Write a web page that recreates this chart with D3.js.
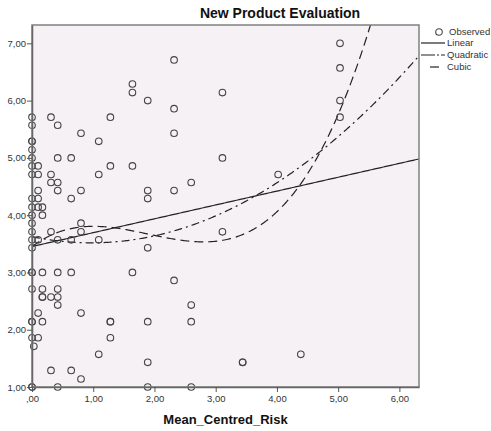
<!DOCTYPE html>
<html>
<head>
<meta charset="utf-8">
<script src="https://d3js.org/d3.v7.min.js"></script>
<style>
  body { margin: 0; background: #fff; }
  text { font-family: "Liberation Sans", Arial, sans-serif; }
</style>
</head>
<body>
<script>
// observed points (x = Mean_Centred_Risk, y = evaluation)
var riskValues = [
  0, 0, 0, 0, 0, 0, 0, 0, 0, 0, 0, 0, 0, 0, 0, 0, 0, 0, 0, 0, 0, 0, 0, 0.03,
  0.10, 0.10, 0.10, 0.10, 0.10, 0.10, 0.10, 0.10,
  0.17, 0.17, 0.17, 0.17, 0.17, 0.17, 0.17,
  0.31, 0.31, 0.31, 0.31, 0.31, 0.31,
  0.42, 0.42, 0.42, 0.42, 0.42, 0.42, 0.42, 0.42, 0.42, 0.42,
  0.64, 0.64, 0.64, 0.64, 0.64,
  0.80, 0.80, 0.80, 0.80, 0.80, 0.80,
  1.09, 1.09, 1.09, 1.09,
  1.28, 1.28, 1.28, 1.28, 1.28,
  1.64, 1.64, 1.64, 1.64,
  1.89, 1.89, 1.89, 1.89, 1.89, 1.89, 1.89,
  2.32, 2.32, 2.32, 2.32, 2.32,
  2.60, 2.60, 2.60, 2.60,
  3.11, 3.11, 3.11,
  3.44, 3.44,
  4.02,
  4.39,
  5.03, 5.03, 5.03, 5.03
];
var evalValues = [
  5.71, 5.57, 5.29, 5.29, 5.14, 5.00, 4.86, 4.71, 4.29, 4.14, 4.00, 3.86, 3.71, 3.57, 3.43, 3.00, 3.00, 2.71, 2.14, 2.14, 1.86, 1.00, 1.00, 1.71,
  4.86, 4.71, 4.43, 4.29, 4.14, 3.57, 2.29, 1.86,
  4.14, 4.00, 3.00, 2.71, 2.57, 2.57, 2.14,
  5.71, 4.71, 4.57, 3.71, 2.57, 1.29,
  5.57, 5.00, 4.57, 4.43, 3.57, 3.00, 2.71, 2.57, 2.43, 1.00,
  5.00, 4.29, 3.57, 3.00, 1.29,
  5.43, 4.43, 3.86, 3.71, 2.29, 1.14,
  5.29, 4.71, 3.57, 1.57,
  5.71, 4.86, 2.14, 2.14, 1.86,
  6.29, 6.14, 4.86, 3.00,
  6.00, 4.43, 4.29, 3.43, 2.14, 1.43, 1.00,
  6.71, 5.86, 5.43, 4.43, 2.86,
  4.57, 2.43, 2.14, 1.00,
  6.14, 5.00, 3.71,
  1.43, 1.43,
  4.71,
  1.57,
  7.00, 6.57, 6.00, 5.71
];
var xTicks = [0, 1, 2, 3, 4, 5, 6];
var yTicks = [1, 2, 3, 4, 5, 6, 7];
var modelNames = ["Linear", "Quadratic", "Cubic"];
var modelDegrees = [1, 2, 3];

var svgWidth = 491;
var svgHeight = 431;

var margin = { top: 25, right: 72, bottom: 44, left: 32 };
var width = svgWidth - margin.left - margin.right;
var height = svgHeight - margin.top - margin.bottom;

var svg = d3.select("body").append("svg")
  .attr("width", svgWidth)
  .attr("height", svgHeight);

var chartGroup = svg.append("g")
  .attr("transform", `translate(${margin.left}, ${margin.top})`);

var xScale = d3.scaleLinear().domain([0, 6.32]).range([0, width]);
var yScale = d3.scaleLinear().domain([1, 7.32]).range([height, 0]);

// spss style numbers: 2,00 and ,00
function fmt(v) {
  var s = v.toFixed(2).replace(".", ",");
  return s.indexOf("0,") === 0 ? s.slice(1) : s;
}

// least squares polynomial fit
function polyFit(xs, ys, deg) {
  var n = deg + 1;
  var A = [];
  for (var i = 0; i < n; i++) {
    A.push([]);
    for (var j = 0; j <= n; j++) A[i].push(0);
  }
  xs.forEach(function(x, k) {
    for (var i = 0; i < n; i++) {
      for (var j = 0; j < n; j++) A[i][j] += Math.pow(x, i + j);
      A[i][n] += ys[k] * Math.pow(x, i);
    }
  });
  for (var c = 0; c < n; c++) {
    var p = c;
    for (var r = c + 1; r < n; r++) if (Math.abs(A[r][c]) > Math.abs(A[p][c])) p = r;
    var tmp = A[c]; A[c] = A[p]; A[p] = tmp;
    for (var r2 = 0; r2 < n; r2++) {
      if (r2 === c) continue;
      var f = A[r2][c] / A[c][c];
      for (var j2 = c; j2 <= n; j2++) A[r2][j2] -= f * A[c][j2];
    }
  }
  return A.map(function(row, i) { return row[n] / row[i]; });
}

chartGroup.append("rect")
  .attr("width", width)
  .attr("height", height)
  .attr("fill", "#f5f1f5");

chartGroup.append("clipPath").attr("id", "plotClip")
  .append("rect").attr("width", width).attr("height", height);

// fitted curves
var dashes = [null, "8,4,2,4", "9,5"];
var xSamples = d3.range(0, 6.321, 0.02);
modelDegrees.forEach(function(deg, i) {
  var coef = polyFit(riskValues, evalValues, deg);
  var line = d3.line()
    .x(d => xScale(d))
    .y(d => yScale(coef.reduce((s, c, k) => s + c * Math.pow(d, k), 0)));
  chartGroup.append("path")
    .datum(xSamples)
    .attr("clip-path", "url(#plotClip)")
    .attr("d", line)
    .attr("fill", "none")
    .attr("stroke", "#222")
    .attr("stroke-width", 1.2)
    .attr("stroke-dasharray", dashes[i]);
});

chartGroup.selectAll("circle.obs")
  .data(riskValues)
  .enter()
  .append("circle")
  .classed("obs", true)
  .attr("cx", d => xScale(d))
  .attr("cy", (d, i) => yScale(evalValues[i]))
  .attr("r", 3.3)
  .attr("fill", "none")
  .attr("stroke", "#444")
  .attr("stroke-width", 1.1);

// frame
chartGroup.append("rect")
  .attr("width", width)
  .attr("height", height)
  .attr("fill", "none")
  .attr("stroke", "#808080")
  .attr("stroke-width", 1.5);

var bottomAxis = d3.axisBottom(xScale).tickValues(xTicks).tickFormat(fmt).tickSize(5).tickSizeOuter(0);
var leftAxis = d3.axisLeft(yScale).tickValues(yTicks).tickFormat(fmt).tickSize(5).tickSizeOuter(0);

var xAxis = chartGroup.append("g")
  .attr("transform", `translate(0, ${height})`)
  .call(bottomAxis);
var yAxis = chartGroup.append("g").call(leftAxis);

[xAxis, yAxis].forEach(function(ax) {
  ax.select(".domain").attr("stroke", "#666").attr("stroke-width", 1.5);
  ax.selectAll(".tick line").attr("stroke", "#555");
  ax.selectAll(".tick text")
    .attr("fill", "#333")
    .style("font-size", "9.5px")
    .style("font-family", "Liberation Sans, Arial, sans-serif");
});
xAxis.selectAll(".tick text").attr("y", 8);
yAxis.selectAll(".tick text").attr("x", -6);

svg.append("text")
  .attr("x", 280)
  .attr("y", 18)
  .attr("text-anchor", "middle")
  .style("font-size", "14px")
  .style("font-weight", "bold")
  .attr("fill", "#111")
  .text("New Product Evaluation");

svg.append("text")
  .attr("x", margin.left + width / 2)
  .attr("y", 424)
  .attr("text-anchor", "middle")
  .style("font-size", "13px")
  .style("font-weight", "bold")
  .attr("fill", "#111")
  .text("Mean_Centred_Risk");

// legend
var legend = svg.append("g").attr("transform", "translate(421, 32)");
legend.append("circle")
  .attr("cx", 18).attr("cy", 0).attr("r", 3.3)
  .attr("fill", "none").attr("stroke", "#444").attr("stroke-width", 1.1);
legend.append("text")
  .attr("x", 28).attr("y", 0).attr("dy", "0.35em")
  .style("font-size", "9.5px").attr("fill", "#333")
  .text("Observed");

var legendLines = [[0, 24], [0, 24], [9, 18]];
modelNames.forEach(function(name, i) {
  var y = 11 + i * 12;
  legend.append("line")
    .attr("x1", legendLines[i][0]).attr("x2", legendLines[i][1])
    .attr("y1", y).attr("y2", y)
    .attr("stroke", "#222").attr("stroke-width", 1.2)
    .attr("stroke-dasharray", i === 1 ? "14,2,2,2" : null);
  legend.append("text")
    .attr("x", 26).attr("y", y).attr("dy", "0.35em")
    .style("font-size", "9.5px").attr("fill", "#333")
    .text(name);
});
</script>
</body>
</html>
